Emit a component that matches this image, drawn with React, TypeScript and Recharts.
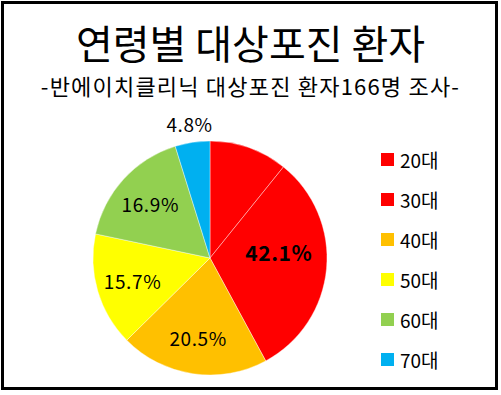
import React from "react";
import { PieChart, Pie, Cell } from "recharts";

const ages = ["20대", "30대", "40대", "50대", "60대", "70대"];
const shares = [10.8, 31.3, 20.5, 15.7, 16.9, 4.8];
const sliceLabels = ["", "42.1%", "20.5%", "15.7%", "16.9%", "4.8%"];
const colors = ["#FF0000", "#FF0000", "#FFC000", "#FFFF00", "#92D050", "#00B0F0"];

const FONT = "'Noto Sans CJK KR', 'Noto Sans', sans-serif";
const RADIAN = Math.PI / 180;

const data = ages.map((name, i) => ({ name, value: shares[i], label: sliceLabels[i] }));

function renderLabel(props: any) {
  const { cx, cy, midAngle, outerRadius, index, percent } = props;
  const text = sliceLabels[index];
  if (!text) return null;
  const bold = index === 1;
  // small slices get the label outside, the big red one sits closer to the centre
  const r = percent < 0.06 ? outerRadius + 19 : outerRadius * (bold ? 0.59 : 0.69);
  const a = bold ? midAngle + 10 : midAngle;
  const x = cx + r * Math.cos(-a * RADIAN);
  const y = cy + r * Math.sin(-a * RADIAN);
  return (
    <text
      x={x}
      y={y}
      textAnchor="middle"
      dominantBaseline="central"
      fill="#000"
      fontFamily={FONT}
      fontSize={bold ? 21 : 19}
      fontWeight={bold ? 700 : 400}
      letterSpacing={0.6}
    >
      {text}
    </text>
  );
}

export default function App() {
  return (
    <div
      style={{
        position: "fixed",
        left: 0,
        top: 0,
        width: 501,
        height: 395,
        background: "#fff",
        fontFamily: FONT,
      }}
    >
      <div
        style={{
          position: "absolute",
          left: 1,
          top: 1,
          width: 491,
          height: 383,
          border: "3px solid #000",
        }}
      />
      <div
        style={{
          position: "absolute",
          left: 0,
          width: 501,
          top: 18,
          textAlign: "center",
          fontSize: 40,
          lineHeight: "48px",
          color: "#000",
        }}
      >
        연령별 대상포진 환자
      </div>
      <div
        style={{
          position: "absolute",
          left: 0,
          width: 501,
          top: 71,
          textAlign: "center",
          fontSize: 22,
          letterSpacing: 1.2,
          lineHeight: "28px",
          color: "#000",
        }}
      >
        -반에이치클리닉 대상포진 환자166명 조사-
      </div>
      <div style={{ position: "absolute", left: 0, top: 0 }}>
        <PieChart width={501} height={395} margin={{ top: 0, right: 0, bottom: 0, left: 0 }}>
          <Pie
            data={data}
            dataKey="value"
            nameKey="name"
            cx={210}
            cy={258}
            outerRadius={117}
            startAngle={90}
            endAngle={-270}
            label={renderLabel}
            labelLine={false}
            stroke="#fff"
            strokeWidth={0.4}
            isAnimationActive={false}
          >
            {data.map((d, i) => (
              <Cell key={d.name} fill={colors[i]} />
            ))}
          </Pie>
        </PieChart>
      </div>
      {ages.map((a, i) => (
        <div
          key={a}
          style={{
            position: "absolute",
            left: 381,
            top: 159 + i * 40 - 12,
            height: 24,
            display: "flex",
            alignItems: "center",
            fontSize: 19,
            color: "#000",
          }}
        >
          <span
            style={{
              display: "inline-block",
              width: 13,
              height: 13,
              background: colors[i],
              marginRight: 6,
            }}
          />
          {a}
        </div>
      ))}
    </div>
  );
}
